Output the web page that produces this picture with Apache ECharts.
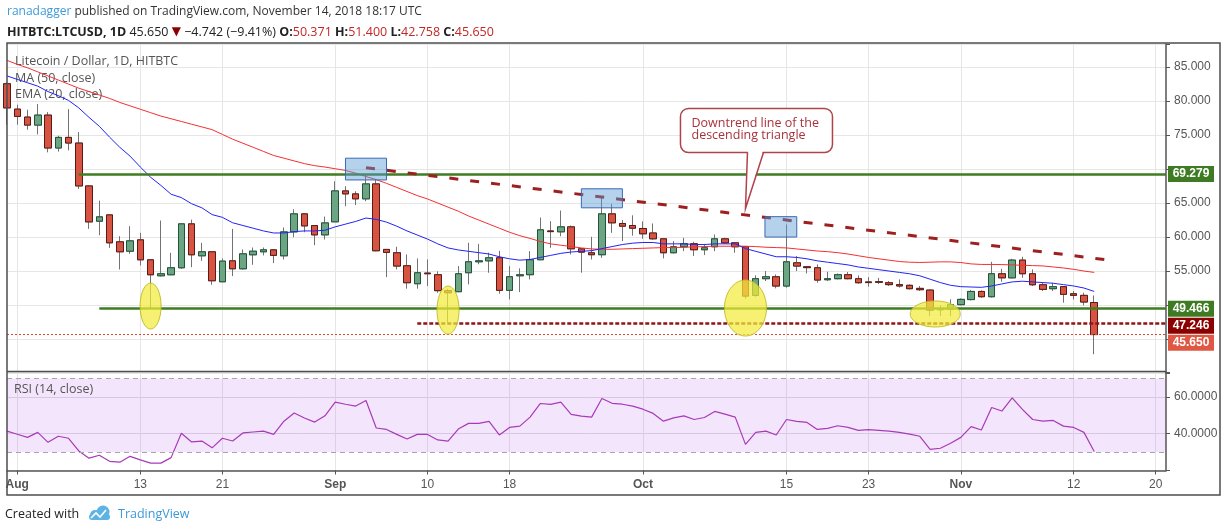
<!DOCTYPE html>
<html>
<head>
<meta charset="utf-8">
<script src="https://cdn.jsdelivr.net/npm/echarts@6/dist/echarts.min.js"></script>
<style>
  html, body { margin: 0; padding: 0; background: #fff; }
  #chart { width: 1226px; height: 532px; }
</style>
</head>
<body>
<div id="chart"></div>
<script>
// daily candles, Jul 31 .. Nov 14 2018
const opens = [82.55, 78.82, 77.65, 76.47, 77.94, 73.1, 74.66, 73.83, 67.52, 62.33,
  63.26, 59.3, 57.92, 59.59, 56.65, 54.3, 54.45, 55.48, 61.94, 57.24,
  57.83, 53.42, 56.5, 55.33, 57.39, 57.83, 58.12, 57.24, 60.76, 63.41,
  61.69, 60.32, 62.24, 66.79, 66.35, 65.62, 67.82, 58.18, 57.69, 55.78,
  53.13, 54.7, 54.46, 52.11, 51.96, 54.75, 56.36, 56.5, 56.95, 52.16,
  54.3, 54.46, 56.66, 60.9, 60.77, 61.5, 58.27, 57.69, 57.4, 63.41,
  62.0, 61.7, 61.26, 60.6, 59.74, 57.69, 58.57, 59.01, 58.13, 58.57,
  59.74, 59.15, 58.57, 51.42, 53.87, 54.16, 52.79, 56.21, 55.63, 55.48,
  53.72, 53.87, 54.46, 53.87, 53.4, 53.43, 53.28, 53.0, 52.9, 52.45,
  52.2, 49.31, 49.4, 50.05, 50.8, 52.0, 51.22, 54.6, 54.0, 56.61,
  54.6, 52.98, 52.4, 52.7, 51.66, 51.42, 50.371];
const highs = [82.8, 79.46, 78.73, 79.56, 78.38, 74.91, 78.82, 75.45, 67.6, 65.36,
  63.3, 60.13, 61.6, 60.62, 56.65, 62.43, 57.68, 61.94, 62.57, 59.15,
  57.9, 56.85, 61.2, 58.17, 58.46, 58.46, 58.2, 61.4, 64.09, 63.5,
  61.7, 63.01, 68.21, 67.48, 66.74, 69.19, 68.46, 58.2, 58.57, 57.44,
  56.86, 56.71, 54.95, 52.4, 55.73, 59.16, 59.0, 57.7, 57.98, 55.73,
  55.4, 57.93, 62.87, 62.34, 63.9, 61.7, 58.3, 60.04, 65.76, 64.88,
  62.5, 63.2, 62.3, 62.0, 59.8, 59.4, 59.89, 59.3, 59.0, 60.38,
  59.9, 59.2, 58.6, 54.36, 55.0, 54.5, 61.85, 57.2, 55.73, 55.97,
  54.9, 54.65, 54.85, 54.36, 54.11, 54.0, 53.52, 53.77, 53.03, 52.8,
  52.3, 49.95, 50.83, 50.98, 52.2, 52.15, 56.36, 55.33, 56.8, 57.1,
  55.24, 53.28, 53.28, 52.7, 52.06, 51.81, 51.4];
const lows = [76.5, 76.52, 75.79, 75.1, 72.46, 72.56, 72.75, 67.08, 61.2, 60.27,
  58.41, 55.23, 57.53, 55.82, 49.5, 54.2, 54.4, 55.33, 55.57, 56.5,
  52.98, 53.4, 54.25, 55.2, 55.92, 57.3, 56.16, 56.7, 59.98, 60.71,
  58.8, 59.64, 62.2, 64.54, 64.7, 65.27, 57.9, 54.11, 55.24, 52.4,
  52.4, 52.79, 51.8, 47.41, 51.9, 53.04, 56.0, 54.75, 51.67, 50.83,
  51.9, 53.77, 56.6, 58.42, 60.13, 57.44, 54.75, 56.7, 56.95, 60.62,
  59.4, 60.2, 59.74, 59.6, 56.86, 57.6, 57.93, 57.2, 57.35, 57.93,
  59.0, 57.69, 50.93, 51.22, 53.53, 52.45, 52.55, 55.0, 54.65, 53.28,
  53.52, 53.77, 53.77, 53.13, 52.7, 53.1, 52.8, 52.55, 52.3, 52.06,
  48.38, 48.38, 48.38, 49.95, 50.68, 51.07, 51.1, 53.43, 53.9, 54.0,
  52.79, 52.06, 52.06, 50.34, 50.83, 49.95, 42.758];
const closes = [79.0, 77.75, 76.47, 77.94, 73.1, 74.66, 73.83, 67.52, 62.23, 62.97,
  59.15, 57.83, 59.44, 56.65, 54.45, 54.6, 55.48, 61.94, 57.39, 57.83,
  53.57, 56.46, 55.33, 57.53, 57.92, 58.12, 57.3, 60.76, 63.41, 61.64,
  60.32, 62.08, 66.79, 66.35, 65.62, 67.82, 57.98, 57.74, 55.73, 53.28,
  54.75, 54.6, 52.11, 51.81, 54.6, 56.36, 56.5, 56.95, 52.16, 54.16,
  54.45, 56.66, 61.06, 60.8, 61.5, 58.27, 57.78, 57.4, 63.41, 62.09,
  61.6, 61.3, 60.48, 59.74, 57.69, 58.57, 59.01, 58.13, 58.42, 59.74,
  59.15, 58.57, 51.32, 53.87, 54.16, 52.79, 56.36, 55.73, 55.5, 53.67,
  53.87, 54.46, 53.87, 53.28, 53.3, 53.35, 53.0, 52.8, 52.4, 52.25,
  49.26, 49.5, 50.05, 50.83, 52.0, 51.22, 54.6, 54.0, 56.61, 54.6,
  52.98, 52.3, 52.7, 51.57, 51.42, 50.44, 45.65];

// indicator values
const ma50 = [86.0, 85.4, 84.9, 84.3, 83.7, 83.1, 82.5, 81.9, 81.4, 80.9,
  80.4, 79.8, 79.3, 78.8, 78.3, 77.8, 77.4, 77.0, 76.6, 76.2,
  75.8, 75.1, 74.4, 73.8, 73.2, 72.6, 72.0, 71.6, 71.2, 70.8,
  70.5, 70.3, 70.05, 69.8, 69.4, 68.9, 68.45, 67.9, 67.3, 66.7,
  66.1, 65.6, 65.0, 64.4, 63.8, 63.1, 62.5, 61.9, 61.3, 60.7,
  60.2, 59.8, 59.35, 59.0, 58.8, 58.6, 58.4, 58.25, 58.2, 58.2,
  58.25, 58.3, 58.35, 58.4, 58.45, 58.45, 58.5, 58.55, 58.6, 58.65,
  58.65, 58.66, 58.65, 58.6, 58.5, 58.45, 58.4, 58.25, 58.1, 57.95,
  57.85, 57.7, 57.5, 57.25, 57.0, 56.8, 56.6, 56.4, 56.3, 56.26,
  56.3, 56.35, 56.35, 56.25, 56.05, 55.97, 55.97, 55.95, 55.9, 55.85,
  55.8, 55.75, 55.6, 55.45, 55.25, 55.0, 54.8];
const ema20 = [83.7, 83.2, 82.7, 82.2, 81.4, 80.8, 80.1, 79.0, 77.6, 76.3,
  74.7, 73.2, 71.9, 70.3, 68.8, 67.6, 66.3, 65.8, 64.9, 64.3,
  63.3, 62.9, 62.1, 61.7, 61.3, 60.9, 60.6, 60.6, 60.8, 60.9,
  60.9, 61.0, 61.5, 61.9, 62.3, 62.8, 62.6, 62.2, 61.6, 60.9,
  60.3, 59.7, 59.0, 58.4, 58.1, 57.9, 57.7, 57.5, 57.1, 56.8,
  56.6, 56.7, 57.0, 57.3, 57.6, 57.8, 57.9, 58.0, 58.3, 58.6,
  58.9, 59.1, 59.2, 59.2, 59.0, 59.0, 59.0, 58.9, 58.9, 59.0,
  59.0, 59.0, 58.3, 57.9, 57.5, 57.1, 57.1, 57.0, 56.8, 56.5,
  56.3, 56.1, 55.9, 55.6, 55.4, 55.2, 55.0, 54.8, 54.6, 54.3,
  53.8, 53.3, 52.9, 52.7, 52.65, 52.6, 52.8, 53.1, 53.4, 53.5,
  53.4, 53.3, 53.2, 53.0, 52.8, 52.5, 52.0];
const rsi14 = [41.4, 39.7, 38.0, 40.7, 35.3, 38.6, 37.5, 30.6, 26.7, 28.3,
  25.0, 24.5, 27.7, 25.8, 24.0, 24.0, 27.0, 40.2, 35.5, 36.0,
  32.3, 37.5, 36.0, 40.4, 40.9, 41.4, 39.6, 46.8, 51.2, 48.5,
  46.3, 49.7, 57.1, 56.0, 55.0, 58.0, 43.1, 42.3, 39.6, 37.1,
  39.6, 39.6, 36.6, 36.0, 42.5, 45.6, 45.6, 46.7, 39.3, 43.4,
  44.1, 49.0, 56.4, 55.9, 57.1, 50.5, 49.5, 49.0, 59.1, 56.5,
  56.0, 55.0, 53.3, 51.0, 46.8, 48.6, 49.7, 47.7, 48.8, 52.1,
  50.6, 49.0, 34.2, 40.7, 41.4, 39.3, 47.7, 46.7, 46.1, 42.3,
  42.9, 44.3, 43.4, 41.8, 42.2, 41.8, 41.4, 40.7, 39.8, 38.6,
  31.5, 32.1, 34.8, 38.0, 43.8, 42.0, 54.2, 52.3, 59.5, 53.2,
  47.7, 46.8, 47.2, 44.1, 43.4, 40.7, 30.3];

const tickDates = ['2018-08-01', '2018-08-13', '2018-08-21', '2018-09-01', '2018-09-10', '2018-09-18',
  '2018-10-01', '2018-10-15', '2018-10-23', '2018-11-01', '2018-11-12', '2018-11-20'];
const priceTicks = [55, 60, 65, 75, 80, 85];
const rsiTicks = [40, 60];

// drawn levels
const resistance = 69.279;
const support = 49.466;
const prevLow = 47.246;
const lastClose = 45.650;

// category axis: Jul 31 .. Nov 21
const dates = [];
for (let i = 0; i < 114; i++) {
  dates.push(new Date(Date.UTC(2018, 6, 31 + i)).toISOString().slice(0, 10));
}
const lastIdx = dates.length - 1;
const tickSet = new Set(tickDates);
const isTick = (i, v) => tickSet.has(v);
const monthNames = { '08': 'Aug', '09': 'Sep', '10': 'Oct', '11': 'Nov' };

const wickData = opens.map((o, i) => [o, closes[i], lows[i], highs[i]]);
const bodyData = opens.map((o, i) => [o, closes[i], Math.min(o, closes[i]), Math.max(o, closes[i])]);

const axisFont = 'Liberation Sans';
const chart = echarts.init(document.getElementById('chart'));

const option = {
  animation: false,
  backgroundColor: '#fff',
  grid: [
    { left: 7, right: 60, top: 44, height: 329 },
    { left: 7, right: 60, top: 372, height: 98.5 }
  ],
  xAxis: [
    {
      type: 'category', gridIndex: 0, data: dates, boundaryGap: false,
      axisLine: { show: false }, axisTick: { show: false }, axisLabel: { show: false },
      splitLine: { show: true, interval: isTick, lineStyle: { color: '#e6e6e6' } }
    },
    {
      type: 'category', gridIndex: 1, data: dates, boundaryGap: false,
      axisLine: { show: true, lineStyle: { color: '#555', width: 1.5 } },
      axisTick: { show: true, interval: isTick, length: 4, lineStyle: { color: '#555' } },
      axisLabel: {
        interval: isTick, color: '#555', fontSize: 12, fontFamily: axisFont, margin: 8,
        formatter: v => v.slice(8) === '01' ? '{m|' + monthNames[v.slice(5, 7)] + '}' : String(+v.slice(8)),
        rich: { m: { fontWeight: 'bold', color: '#555', fontSize: 12, fontFamily: axisFont } }
      },
      splitLine: { show: true, interval: isTick, lineStyle: { color: '#e6e6e6' } }
    }
  ],
  yAxis: [
    {
      type: 'value', gridIndex: 0, position: 'right', min: 40, max: 88.4, interval: 5,
      axisLine: { show: true, lineStyle: { color: '#555', width: 1.5 } },
      axisTick: { show: true, length: 4, lineStyle: { color: '#555' } },
      axisLabel: {
        color: '#555', fontSize: 12, fontFamily: axisFont, margin: 8,
        formatter: v => priceTicks.includes(v) ? v.toFixed(3) : ''
      },
      splitLine: { lineStyle: { color: '#e6e6e6' } }
    },
    {
      type: 'value', gridIndex: 1, position: 'right', min: 20, max: 73.5, interval: 20,
      axisLine: { show: true, lineStyle: { color: '#555', width: 1.5 } },
      axisTick: { show: true, length: 4, lineStyle: { color: '#555' } },
      axisLabel: {
        color: '#555', fontSize: 12, fontFamily: axisFont, margin: 8,
        formatter: v => rsiTicks.includes(v) ? v.toFixed(4) : ''
      },
      splitLine: { lineStyle: { color: '#e0dce4' } }
    }
  ],
  series: [
    {
      name: 'wicks', type: 'candlestick', xAxisIndex: 0, yAxisIndex: 0, data: wickData,
      barWidth: 7, silent: true,
      itemStyle: { color: '#737375', color0: '#737375', borderColor: '#737375', borderColor0: '#737375', borderWidth: 1 }
    },
    {
      name: 'LTCUSD', type: 'candlestick', xAxisIndex: 0, yAxisIndex: 0, data: bodyData,
      barWidth: 7, silent: true,
      itemStyle: { color: '#6ba583', color0: '#d75442', borderColor: '#225437', borderColor0: '#5b1a13', borderWidth: 1 },
      markLine: {
        silent: true, symbol: ['none', 'none'], label: { show: false },
        data: [
          [{ coord: [0, lastClose], lineStyle: { color: '#e8432d', width: 1, type: [2, 2] } }, { coord: [lastIdx, lastClose] }],
          [{ coord: [7, resistance], lineStyle: { color: '#3f7d22', width: 2.5, type: 'solid' } }, { coord: [lastIdx, resistance] }],
          [{ coord: [9, support], lineStyle: { color: '#3f7d22', width: 2.5, type: 'solid' } }, { coord: [lastIdx, support] }],
          [{ coord: [40, prevLow], lineStyle: { color: '#8e1616', width: 2.5, type: [4, 2] } }, { coord: [lastIdx, prevLow] }],
          [{ coord: [35, 70.2], lineStyle: { color: '#9e1f1f', width: 3, type: [9, 12] } }, { coord: [108, 56.5] }]
        ]
      }
    },
    {
      name: 'MA (50, close)', type: 'line', xAxisIndex: 0, yAxisIndex: 0, data: ma50,
      symbol: 'none', silent: true, lineStyle: { color: '#f53030', width: 1 }
    },
    {
      name: 'EMA (20, close)', type: 'line', xAxisIndex: 0, yAxisIndex: 0, data: ema20,
      symbol: 'none', silent: true, lineStyle: { color: '#2323f5', width: 1 }
    },
    {
      name: 'RSI (14, close)', type: 'line', xAxisIndex: 1, yAxisIndex: 1, data: rsi14,
      symbol: 'none', silent: true, lineStyle: { color: '#a83ab8', width: 1.2 },
      markArea: {
        silent: true,
        itemStyle: { color: 'rgba(155, 47, 230, 0.12)' },
        data: [[{ yAxis: 30 }, { yAxis: 70 }]]
      },
      markLine: {
        silent: true, symbol: ['none', 'none'], label: { show: false },
        lineStyle: { color: '#a9a3ad', width: 1, type: [5, 4] },
        data: [{ yAxis: 70 }, { yAxis: 30 }]
      }
    }
  ]
};
chart.setOption(option);

// pixel position for a (fractional) day index and a price
function pt(day, price) {
  const a = chart.convertToPixel({ xAxisIndex: 0, yAxisIndex: 0 }, [0, price]);
  const b = chart.convertToPixel({ xAxisIndex: 0, yAxisIndex: 0 }, [1, price]);
  return [a[0] + (b[0] - a[0]) * day, a[1]];
}

const font = '"Open Sans"';
const g = [];

// header + footer text
g.push({
  type: 'text', x: 7, y: 12, z: 100,
  style: {
    text: '{u|ranadagger} published on TradingView.com, November 14, 2018 18:17 UTC',
    fill: '#333', fontSize: 12, fontFamily: font, verticalAlign: 'middle',
    rich: { u: { fill: '#3d9ad9', fontSize: 12, fontFamily: font } }
  }
});
g.push({
  type: 'text', x: 7, y: 32, z: 100,
  style: {
    text: '{b|HITBTC:LTCUSD, 1D} 45.650 {t|▼} −4.742 (−9.41%) {b|O:}{r|50.371} {b|H:}{r|51.400} {b|L:}{r|42.758} {b|C:}{r|45.650}',
    fill: '#222', fontSize: 12.5, fontFamily: font, verticalAlign: 'middle',
    rich: {
      b: { fontWeight: 'bold', fill: '#222', fontSize: 12.5, fontFamily: font },
      r: { fill: '#c42626', fontSize: 12.5, fontFamily: font },
      t: { fill: '#8b0000', fontSize: 12, fontFamily: 'DejaVu Sans' }
    }
  }
});
[['Litecoin / Dollar, 1D, HITBTC', 61], ['MA (50, close)', 78], ['EMA (20, close)', 94]].forEach(([t, y]) => {
  g.push({ type: 'text', x: 15, y: y, z: 1, style: { text: t, fill: '#555', fontSize: 12.5, fontFamily: font, verticalAlign: 'middle' } });
});
g.push({ type: 'text', x: 14, y: 389, z: 100, style: { text: 'RSI (14, close)', fill: '#555', fontSize: 12.5, fontFamily: font, verticalAlign: 'middle' } });
g.push({ type: 'text', x: 5, y: 514, z: 100, style: { text: 'Created with', fill: '#222', fontSize: 12.5, fontFamily: font, verticalAlign: 'middle' } });
g.push({ type: 'text', x: 118, y: 514, z: 100, style: { text: 'TradingView', fill: '#3d9ad9', fontSize: 12.5, fontFamily: font, verticalAlign: 'middle' } });
// logo
g.push({ type: 'circle', z: 100, shape: { cx: 95, cy: 515, r: 5 }, style: { fill: '#5db3e4' } });
g.push({ type: 'circle', z: 100, shape: { cx: 103, cy: 512, r: 6.5 }, style: { fill: '#5db3e4' } });
g.push({ type: 'rect', z: 100, shape: { x: 89, y: 514, width: 21, height: 6, r: 3 }, style: { fill: '#5db3e4' } });
g.push({ type: 'polyline', z: 101, shape: { points: [[91, 518], [96, 513], [100, 517], [106, 510]] }, style: { stroke: '#fff', lineWidth: 1.6, fill: 'none' } });

// frame
g.push({ type: 'rect', z: 90, silent: true, shape: { x: 7, y: 43, width: 1213, height: 452 }, style: { fill: 'none', stroke: '#4d4d4d', lineWidth: 1.5 } });
g.push({ type: 'line', z: 90, silent: true, shape: { x1: 7, y1: 371.5, x2: 1166, y2: 371.5 }, style: { stroke: '#4d4d4d', lineWidth: 1.5 } });

// highlighted boxes on the downtrend line
[
  { from: 33.0, to: 37.0, top: 71.6, bottom: 68.4 },
  { from: 56.0, to: 60.0, top: 67.1, bottom: 64.3 },
  { from: 73.9, to: 77.0, top: 63.0, bottom: 60.0 }
].forEach(b => {
  const p1 = pt(b.from, b.top), p2 = pt(b.to, b.bottom);
  g.push({
    type: 'rect', z: 60,
    shape: { x: p1[0], y: p1[1], width: p2[0] - p1[0], height: p2[1] - p1[1] },
    style: { fill: 'rgba(91, 155, 213, 0.45)', stroke: '#3a6ab5', lineWidth: 1 }
  });
});

// yellow ellipses on the support touches
[
  { day: 14, price: 49.85, rx: 10.5, ry: 23 },
  { day: 43, price: 49.26, rx: 11, ry: 24 },
  { day: 72, price: 49.56, rx: 21, ry: 28 },
  { day: 90.5, price: 48.68, rx: 25, ry: 13 }
].forEach(e => {
  const c = pt(e.day, e.price);
  g.push({
    type: 'ellipse', z: 60,
    shape: { cx: c[0], cy: c[1], rx: e.rx, ry: e.ry },
    style: { fill: 'rgba(242, 236, 60, 0.72)', stroke: 'rgba(190, 184, 40, 0.9)', lineWidth: 1 }
  });
});

// callout
const tip = pt(72, 64.2);
const L = tip[0] - 65, T = tip[1] - 100, W = 152, H = 44;
g.push({ type: 'rect', z: 70, shape: { x: L, y: T, width: W, height: H, r: 8 }, style: { fill: '#fff', stroke: '#b0434a', lineWidth: 1.5 } });
g.push({ type: 'polygon', z: 71, shape: { points: [[tip[0] + 2.5, T + H - 2], tip, [tip[0] + 17.5, T + H - 2]] }, style: { fill: '#fff' } });
g.push({ type: 'polyline', z: 72, shape: { points: [[tip[0] + 2, T + H], tip, [tip[0] + 18, T + H]] }, style: { stroke: '#b0434a', lineWidth: 1.5, fill: 'none' } });
g.push({
  type: 'text', z: 73, x: L + 11, y: T + 9,
  style: { text: 'Downtrend line of the\ndescending triangle', fill: '#a8323a', fontSize: 12.5, fontFamily: font, lineHeight: 12 }
});

// price tags on the right axis
let lastBottom = -Infinity;
[
  { value: resistance, bg: '#3e7b22' },
  { value: support, bg: '#3e7b22' },
  { value: prevLow, bg: '#8b0000' },
  { value: lastClose, bg: '#df5843' }
].forEach(tag => {
  let cy = pt(0, tag.value)[1];
  if (cy - 8 < lastBottom + 1) cy = lastBottom + 9;
  lastBottom = cy + 8;
  g.push({ type: 'rect', z: 95, shape: { x: 1168, y: cy - 8, width: 46, height: 16 }, style: { fill: tag.bg } });
  g.push({
    type: 'text', z: 96, x: 1191, y: cy,
    style: { text: tag.value.toFixed(3), fill: '#fff', fontSize: 12, fontWeight: 'bold', fontFamily: axisFont, align: 'center', verticalAlign: 'middle' }
  });
});

chart.setOption({ graphic: g });
</script>
</body>
</html>
